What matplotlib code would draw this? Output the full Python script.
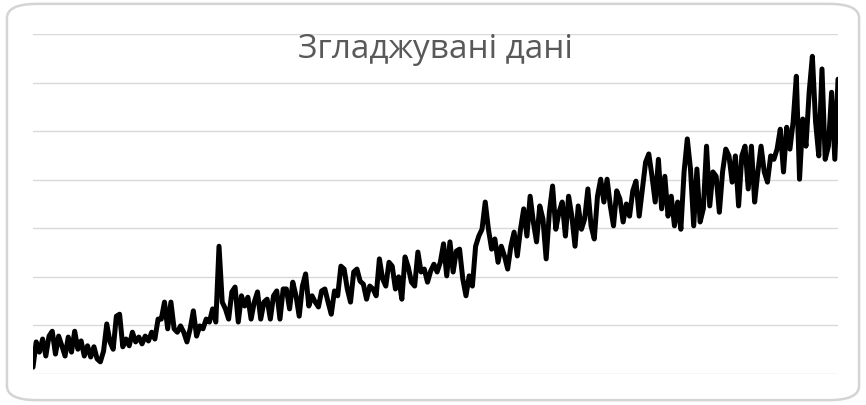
import numpy as np
import matplotlib.pyplot as plt
from matplotlib.patches import FancyBboxPatch

# згладжені значення ряду, по порядку
part1 = [14, 66, 45, 72, 37, 78, 88, 41, 78, 58, 37, 76, 45, 88, 51, 68, 37, 58, 35, 56,
         31, 25, 47, 103, 66, 51, 119, 123, 56, 72, 58, 86, 66, 76, 62, 78, 68, 86, 72, 113]
part2 = [113, 148, 93, 148, 93, 86, 99, 86, 66, 93, 130, 78, 99, 93, 113, 107, 134, 107, 263, 148,
         134, 113, 169, 179, 107, 161, 140, 158, 113, 148, 169, 113, 148, 154, 113, 161, 171, 113, 175, 175,
         134, 189]
part3 = [161, 119, 181, 206, 140, 161, 148, 138, 171, 175, 148, 123, 171, 161, 222, 216, 175, 148, 210, 216,
         191, 185, 154, 181, 175, 161, 237, 196, 181, 230, 222, 175, 200, 154, 241, 220, 189, 181, 251, 210,
         216, 189, 212, 226]
part4 = [210, 230, 268, 202, 272, 210, 253, 257, 196, 161, 202, 181, 263, 284, 298, 354, 298, 257, 278, 230,
         263, 243, 216, 263, 292, 243, 298, 340, 284, 366, 313, 272, 346, 319, 237, 333, 387, 298, 333, 354,
         284]
part5 = [366, 325, 263, 346, 298, 319, 381, 305, 278, 366, 401, 354, 401, 346, 305, 377, 360, 313, 350, 325,
         377, 397, 325, 381, 436, 453, 407, 354, 442, 340, 407, 325, 366, 305, 354, 298, 416, 484, 422, 305,
         422, 313, 340, 469]
part6 = [346, 416, 407, 333, 416, 463, 449, 395, 449, 346, 449, 469, 381, 469, 354, 416, 469, 416, 395, 449,
         442, 463, 504, 416, 508, 463, 519, 613, 401, 525, 469, 580, 654, 519, 449, 628, 442, 469, 580, 442,
         607]

values = np.array(part1 + part2 + part3 + part4 + part5 + part6)
x = np.arange(len(values))

title = "Згладжувані дані"

fig = plt.figure(figsize=(8.66, 4.06), dpi=100)

# рамка діаграми із заокругленими кутами
frame = FancyBboxPatch((0.008, 0.012), 0.984, 0.976, boxstyle="round,pad=0,rounding_size=0.035",
                       transform=fig.transFigure, facecolor="none", edgecolor="#d4d4d4",
                       linewidth=1.8, zorder=5)
fig.patches.append(frame)

ax = fig.add_axes([0.0381, 0.0764, 0.9296, 0.8374])
ax.set_facecolor("none")
ax.plot(x, values, color="black", linewidth=3.6, solid_joinstyle="round", solid_capstyle="round", zorder=3)

ax.set_xlim(0, len(values) - 1)
ax.set_ylim(0, 700)
ax.set_yticks(np.arange(0, 701, 100))
ax.set_xticks([])
ax.grid(axis="y", color="#d9d9d9", linewidth=1)
ax.tick_params(left=False, labelleft=False)
for s in ax.spines.values():
    s.set_visible(False)

fig.text(0.503, 0.877, title, ha="center", va="center", fontsize=24, color="#595959", family="Open Sans")

fig.savefig("out.png", dpi=100)
